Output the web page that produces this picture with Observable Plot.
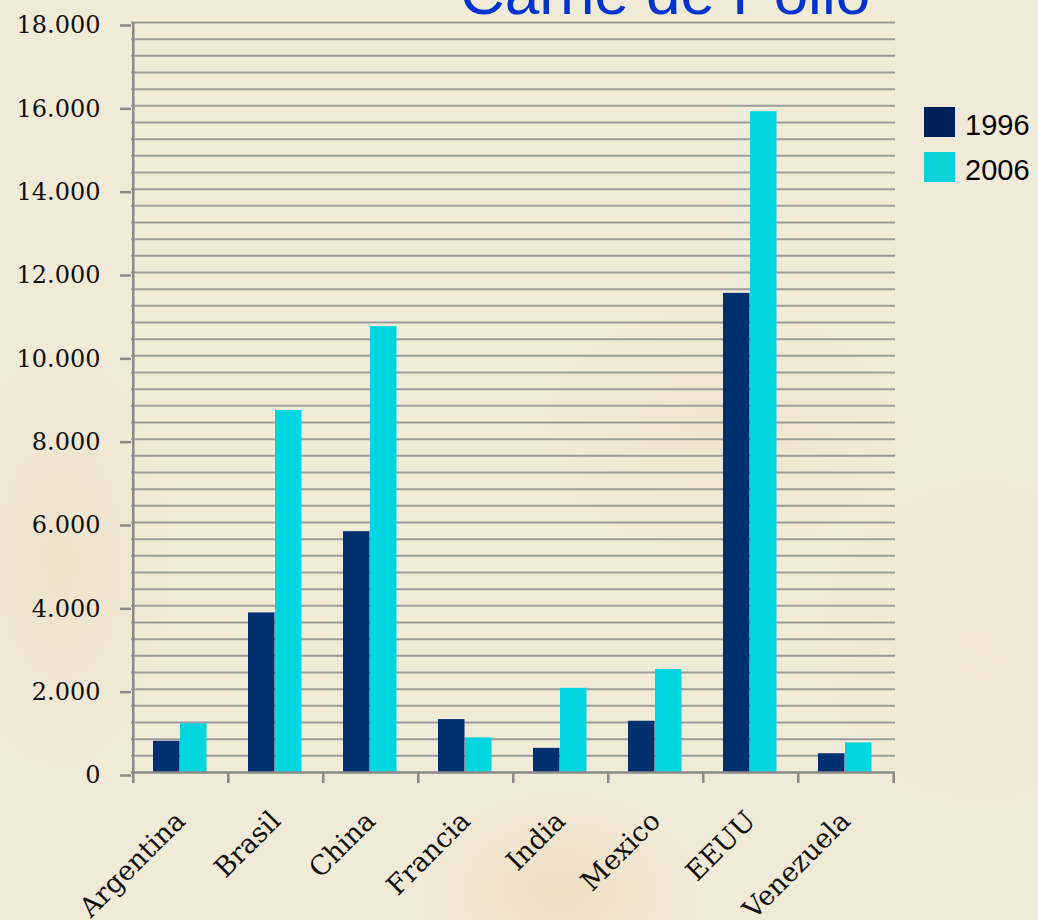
<!DOCTYPE html>
<html>
<head>
<meta charset="utf-8">
<script src="https://cdn.jsdelivr.net/npm/d3@7"></script>
<script src="https://cdn.jsdelivr.net/npm/@observablehq/plot@0.6"></script>
<style>
  html, body { margin: 0; padding: 0; }
  #page {
    position: relative; width: 1038px; height: 920px; overflow: hidden;
    background:
      radial-gradient(ellipse 160px 300px at 60px 560px, rgba(226,205,160,0.25), rgba(226,205,160,0) 70%),
      radial-gradient(ellipse 200px 140px at 560px 890px, rgba(232,200,140,0.30), rgba(232,200,140,0) 70%),
      radial-gradient(ellipse 260px 180px at 720px 430px, rgba(236,214,170,0.20), rgba(236,214,170,0) 70%),
      radial-gradient(ellipse 240px 240px at 980px 640px, rgba(236,220,185,0.20), rgba(236,220,185,0) 70%),
      #f0ead8;
    font-family: "Liberation Sans", Arial, sans-serif;
  }
  #title {
    position: absolute; left: 460px; top: -38px; line-height: 62px;
    font-size: 62px; color: #0033cc; white-space: nowrap;
  }
  #legend { position: absolute; left: 924px; top: 107px; }
  .item { position: relative; height: 45px; }
  .sw { position: absolute; left: 0; top: 0; width: 31px; height: 30px; }
  .lab { position: absolute; left: 41px; top: -2px; font-size: 29px; line-height: 40px; color: #000; }
  #chart { position: absolute; left: 0; top: 0; }
</style>
</head>
<body>
<div id="page">
  <div id="chart"></div>
  <div id="title">Carne de Pollo</div>
  <div id="legend"></div>
</div>
<script>
const countries = ["Argentina", "Brasil", "China", "Francia", "India", "Mexico", "EEUU", "Venezuela"];
const values1996 = [750, 3830, 5780, 1270, 580, 1230, 11500, 450];
const values2006 = [1170, 8690, 10700, 830, 2020, 2470, 15860, 710];
const years = ["1996", "2006"];
const barColors = ["#003070", "#00d5e0"];
const legendColors = ["#00205b", "#0bd0d8"];
const yTicks = d3.range(0, 18001, 2000);
const gridValues = d3.range(400, 18001, 400);

const rows1996 = countries.map((c, i) => ({country: c, value: values1996[i]}));
const rows2006 = countries.map((c, i) => ({country: c, value: values2006[i]}));

const W = 1038, H = 920, mL = 131, mR = 143, mT = 22, mB = 148;
const step = (W - mL - mR) / countries.length;
const gray = "#8a8a8a";
const fmt = d => d3.format(",")(d).replace(/,/g, ".");

const chart = Plot.plot({
  width: W, height: H,
  marginLeft: mL, marginRight: mR, marginTop: mT, marginBottom: mB,
  style: {background: "transparent", overflow: "visible"},
  x: {type: "band", domain: countries, padding: 0, axis: null},
  y: {domain: [0, 18000], axis: null, label: null},
  marks: [
    Plot.ruleY(gridValues, {stroke: "#9c9c9c", strokeWidth: 2}),
    Plot.barY(rows1996, {x: "country", y: "value", fill: barColors[0], insetLeft: 20, insetRight: step - 47}),
    Plot.barY(rows2006, {x: "country", y: "value", fill: barColors[1], insetLeft: 47, insetRight: step - 74}),
    Plot.ruleY([0], {stroke: gray, strokeWidth: 2.5}),
    Plot.ruleX([countries[0]], {x: d => d, dx: -step / 2, stroke: gray, strokeWidth: 2.5}),
    Plot.ruleX(countries, {x: d => d, dx: -step / 2, y1: 0, y2: 0, insetBottom: -11, stroke: gray, strokeWidth: 2.5}),
    Plot.ruleX([countries[countries.length - 1]], {x: d => d, dx: step / 2, y1: 0, y2: 0, insetBottom: -11, stroke: gray, strokeWidth: 2.5}),
    Plot.axisY(yTicks, {tickSize: 11, tickPadding: 20, tickFormat: fmt, stroke: gray, strokeWidth: 2.5, label: null,
      fontSize: 24, fontFamily: "DejaVu Serif", fill: "#111", dy: 3}),
    Plot.text(countries, {x: d => d, frameAnchor: "bottom", text: d => d, rotate: -45, textAnchor: "end",
      lineAnchor: "bottom", dx: 6, dy: 50, fontSize: 27, fontFamily: "DejaVu Serif", fill: "#111"})
  ]
});
document.getElementById("chart").appendChild(chart);

const legend = document.getElementById("legend");
years.forEach((y, i) => {
  const item = document.createElement("div");
  item.className = "item";
  item.innerHTML = `<div class="sw" style="background:${legendColors[i]}"></div><div class="lab">${y}</div>`;
  legend.appendChild(item);
});
</script>
</body>
</html>
